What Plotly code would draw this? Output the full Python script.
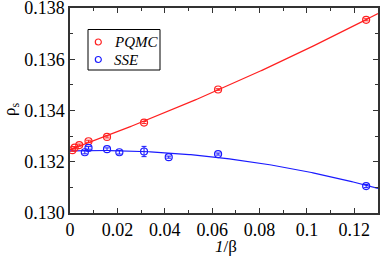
import numpy as np
import plotly.graph_objects as go

# PQMC data
pqmc_x = [1/1024, 1/512, 1/256, 1/128, 1/64, 1/32, 1/16, 1/8]
pqmc_y = [0.13245, 0.13255, 0.13265, 0.13280, 0.13297, 0.13353, 0.13482, 0.13754]
pqmc_err = [0.00004, 0.00004, 0.00004, 0.00004, 0.00004, 0.00004, 0.00003, 0.00004]

# SSE data
sse_x = [1/160, 1/128, 1/64, 1/48, 1/32, 1/24, 1/16, 1/8]
sse_y = [0.13237, 0.13254, 0.13249, 0.13237, 0.13240, 0.13218, 0.13230, 0.13105]
sse_err = [0.00006, 0.00005, 0.00005, 0.00007, 0.00020, 0.00004, 0.00004, 0.00006]

x_ticks = [0, 0.02, 0.04, 0.06, 0.08, 0.1, 0.12]
x_ticktext = ["0", "0.02", "0.04", "0.06", "0.08", "0.1", "0.12"]
y_ticks = [0.130, 0.132, 0.134, 0.136, 0.138]
y_ticktext = ["0.130", "0.132", "0.134", "0.136", "0.138"]

series_names = ["PQMC", "SSE"]

RED = "#ff2020"
BLUE = "#1a1aff"
FONT = "Liberation Serif, Times New Roman, serif"
AX = "#333333"

xf = np.linspace(0, 0.13, 200)
p_red = np.polyfit(pqmc_x, pqmc_y, 2, w=1/np.array(pqmc_err))
p_blue = np.polyfit(sse_x, sse_y, 2, w=1/np.array(sse_err))

fig = go.Figure()
fig.add_trace(go.Scatter(x=xf, y=np.polyval(p_red, xf), mode="lines",
                         line=dict(color=RED, width=1.2), showlegend=False, hoverinfo="skip"))
fig.add_trace(go.Scatter(x=xf, y=np.polyval(p_blue, xf), mode="lines",
                         line=dict(color=BLUE, width=1.2), showlegend=False, hoverinfo="skip"))
fig.add_trace(go.Scatter(x=pqmc_x, y=pqmc_y, mode="markers", name=series_names[0], showlegend=False,
                         marker=dict(symbol="circle-open", size=7, color=RED, line=dict(width=1.2)),
                         error_y=dict(type="data", array=pqmc_err, color=RED, thickness=1, width=2.5)))
fig.add_trace(go.Scatter(x=sse_x, y=sse_y, mode="markers", name=series_names[1], showlegend=False,
                         marker=dict(symbol="circle-open", size=7, color=BLUE, line=dict(width=1.2)),
                         error_y=dict(type="data", array=sse_err, color=BLUE, thickness=1, width=2.5)))

axis_common = dict(showline=True, linecolor=AX, linewidth=1.5, mirror="allticks",
                   ticks="inside", ticklen=5, tickwidth=1, tickcolor=AX,
                   showgrid=False, zeroline=False, automargin=False,
                   ticklabeloverflow="allow",
                   tickfont=dict(family=FONT, size=18, color="black"))

fig.update_xaxes(range=[0, 0.13], tickvals=x_ticks, ticktext=x_ticktext,
                 minor=dict(dtick=0.01, ticks="inside", ticklen=3, tickcolor=AX, showgrid=False),
                 **axis_common)
fig.update_yaxes(range=[0.130, 0.138], tickvals=y_ticks, ticktext=y_ticktext,
                 minor=dict(dtick=0.001, ticks="inside", ticklen=3, tickcolor=AX, showgrid=False),
                 **axis_common)

# plot area in pixels: x 70..378, y 8..213
W, H = 308.0, 205.0
def px(x):
    return (x - 70) / W
def py(y):
    return (213 - y) / H

shapes = [dict(type="rect", xref="paper", yref="paper",
               x0=px(88), x1=px(160), y0=py(70), y1=py(29.5),
               line=dict(color="black", width=1), fillcolor="white", layer="above")]
annotations = []
for name, color, yy in [(series_names[0], RED, 42), (series_names[1], BLUE, 59.5)]:
    shapes.append(dict(type="circle", xref="paper", yref="paper",
                       x0=px(95.3), x1=px(101.3), y0=py(yy + 3), y1=py(yy - 3),
                       line=dict(color=color, width=1.2), layer="above"))
    annotations.append(dict(text=f"<i>{name}</i>", xref="paper", yref="paper",
                            x=px(111.5), y=py(yy), xanchor="left", yanchor="middle",
                            showarrow=False, font=dict(family=FONT, size=15, color="black")))

annotations.append(dict(text="<i>1</i>/β", xref="paper", yref="paper",
                        x=px(226), y=py(246.5), xanchor="center", yanchor="middle",
                        showarrow=False, font=dict(family=FONT, size=17, color="black")))
annotations.append(dict(text="ρ<sub>s</sub>", xref="paper", yref="paper",
                        x=px(11), y=py(110), xanchor="center", yanchor="middle", textangle=-90,
                        showarrow=False, font=dict(family=FONT, size=17, color="black")))

fig.update_layout(
    width=382, height=257,
    margin=dict(l=70, r=4, t=8, b=44),
    paper_bgcolor="white", plot_bgcolor="white",
    font=dict(family=FONT, size=15, color="black"),
    showlegend=False,
    shapes=shapes,
    annotations=annotations,
)

fig.write_html("out.html", config={"displayModeBar": False},
               post_script="document.body.style.margin='0';document.body.style.overflow='hidden';")
